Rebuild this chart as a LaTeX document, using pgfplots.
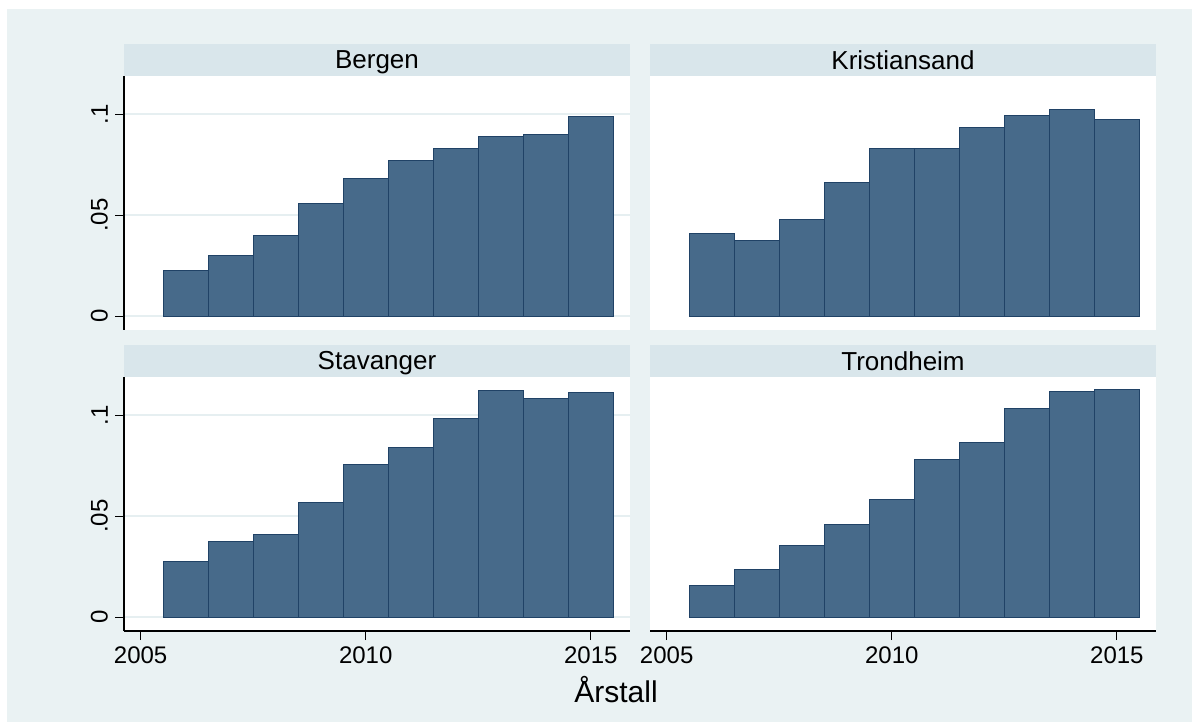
\documentclass[border=0pt]{standalone}
\usepackage{fontspec}
\setmainfont{Liberation Sans}
\usepackage{pgfplots}
\pgfplotsset{compat=1.18}
\definecolor{bgc}{RGB}{234,242,243}
\definecolor{stripc}{RGB}{217,230,235}
\definecolor{barc}{RGB}{71,106,138}
\definecolor{barl}{RGB}{32,66,102}
\definecolor{gridc}{RGB}{230,239,241}
\pgfplotsset{
  every axis title shift=0pt,
  panel/.style={
    scale only axis, width=253pt, height=127pt,
    xmin=2004.63, xmax=2015.87, ymin=-0.0068, ymax=0.119,
    axis background/.style={fill=white},
    ytick={0,0.05,0.1}, yticklabels={0,.05,.1},
    ymajorgrids, grid style={gridc, line width=0.9pt},
    tick align=outside, major tick length=4.5pt,
    tick style={black, line width=0.6pt},
    axis line style={black, line width=0.7pt},
    /pgf/number format/assume math mode=true,
    ticklabel style={font=\fontsize{12}{14}\selectfont},
    yticklabel style={rotate=90, anchor=south},
    xtick={2005,2010,2015},
    xticklabels={2005,2010,2015},
    title style={at={(0.5,1)}, anchor=south, yshift=0pt, fill=stripc, minimum width=253pt,
      minimum height=16pt, inner sep=0pt, text depth=0pt, font=\fontsize{13}{15}\selectfont},
    ybar, bar width=1, bar shift=0,
    clip=false,
  },
  leftp/.style={axis y line*=left},
  rightp/.style={axis y line=none, yticklabels={}},
  topp/.style={axis x line=none},
  botp/.style={axis x line*=bottom},
  bars/.style={fill=barc, draw=barl, line width=0.5pt},
}
\begin{document}
\begin{tikzpicture}
\fill[white] (0,0) rectangle (596pt,361pt);
\fill[bgc] (3.5pt,0) rectangle (596pt,356.5pt);
% Bergen
\begin{axis}[panel, leftp, topp, at={(62pt,196pt)}, anchor=south west, title={Bergen}]
\addplot[bars] coordinates {(2006,0.0228) (2007,0.0302) (2008,0.0398) (2009,0.0560) (2010,0.0683) (2011,0.0769) (2012,0.0830) (2013,0.0891) (2014,0.0898) (2015,0.0990)};
\end{axis}
% Kristiansand
\begin{axis}[panel, rightp, topp, at={(325pt,196pt)}, anchor=south west, title={Kristiansand}]
\addplot[bars] coordinates {(2006,0.0412) (2007,0.0377) (2008,0.0478) (2009,0.0663) (2010,0.0833) (2011,0.0830) (2012,0.0937) (2013,0.0993) (2014,0.1023) (2015,0.0975)};
\end{axis}
% Stavanger
\begin{axis}[panel, leftp, botp, at={(62pt,45.5pt)}, anchor=south west, title={Stavanger}]
\addplot[bars] coordinates {(2006,0.0276) (2007,0.0377) (2008,0.0408) (2009,0.0567) (2010,0.0759) (2011,0.0841) (2012,0.0982) (2013,0.1121) (2014,0.1084) (2015,0.1112)};
\end{axis}
% Trondheim
\begin{axis}[panel, rightp, botp, at={(325pt,45.5pt)}, anchor=south west, title={Trondheim}]
\addplot[bars] coordinates {(2006,0.0155) (2007,0.0238) (2008,0.0354) (2009,0.0460) (2010,0.0583) (2011,0.0782) (2012,0.0864) (2013,0.1036) (2014,0.1117) (2015,0.1126)};
\end{axis}
\node[font=\fontsize{15}{17}\selectfont] at (308pt,16pt) {Årstall};
\end{tikzpicture}
\end{document}
